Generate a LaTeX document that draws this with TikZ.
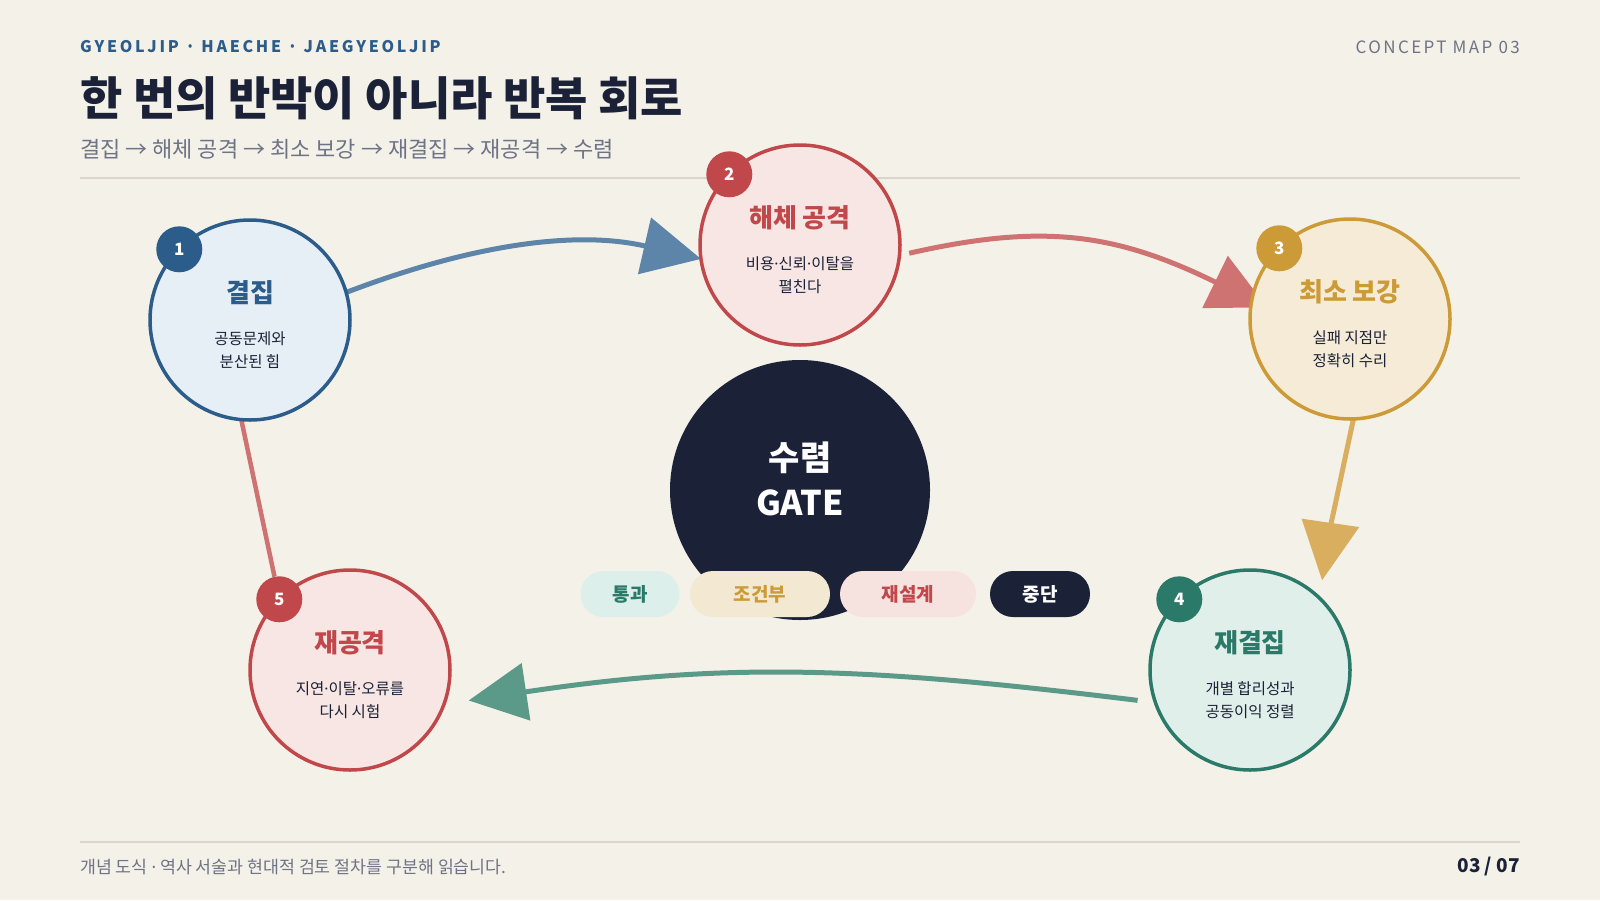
\documentclass[tikz,border=0pt]{standalone}
\usepackage{fontspec}
\setmainfont{Noto Sans CJK KR}
\newfontfamily\dotfont{Noto Sans}
\newcommand\mdot{{\dotfont ·}}
\usetikzlibrary{arrows.meta}
\definecolor{paper}{HTML}{F4F1E8}
\definecolor{ink}{HTML}{1B2238}
\definecolor{mute}{HTML}{6E7385}
\definecolor{rulec}{HTML}{D9D5C9}
\definecolor{blu}{HTML}{2B5C8A}
\definecolor{bluf}{HTML}{E6EEF6}
\definecolor{blua}{HTML}{5D85A9}
\definecolor{rd}{HTML}{C0484B}
\definecolor{rdf}{HTML}{F7E6E3}
\definecolor{rda}{HTML}{CF7272}
\definecolor{gd}{HTML}{CC9A36}
\definecolor{gdf}{HTML}{F5EBD6}
\definecolor{gda}{HTML}{D9AE5F}
\definecolor{tl}{HTML}{2B7A69}
\definecolor{tlf}{HTML}{E1EFEA}
\definecolor{tla}{HTML}{5B9A89}
\definecolor{tlp}{HTML}{DDEFEA}
\definecolor{gdp}{HTML}{F3E9D2}
\definecolor{rdp}{HTML}{F6E2DF}
\pgfdeclarelayer{bg}
\pgfdeclarelayer{links}
\pgfsetlayers{bg,links,main}
\tikzset{
  stage/.style={circle,minimum size=200pt,inner sep=0pt,outer sep=0pt,line width=3.5pt},
  badge/.style={circle,minimum size=46pt,inner sep=0pt,text=white,font=\bfseries\fontsize{17}{17}\selectfont},
  stagetitle/.style={font=\bfseries\fontsize{26}{26}\selectfont},
  stagenote/.style={align=center,text=ink,font=\fontsize{15.5}{23.5}\selectfont},
  pill/.style={rounded corners=23pt,minimum height=46pt,inner sep=0pt,font=\bfseries\fontsize{19}{19}\selectfont},
  flow/.style={line width=5pt,-{Triangle[length=58pt,width=57pt]}},
  rulel/.style={rulec,line width=2pt}
}
\begin{document}
\begin{tikzpicture}[x=1pt,y=-1pt]
\useasboundingbox (0,0) rectangle (1600,900);
\begin{pgfonlayer}{bg}
\fill[paper] (0,0) rectangle (1600,900);
\end{pgfonlayer}
\node[anchor=west,inner sep=0pt,text=blu,font=\bfseries\fontsize{16}{16}\selectfont\addfontfeature{LetterSpace=17}] (kicker) at (80,47) {GYEOLJIP · HAECHE · JAEGYEOLJIP};
\node[anchor=east,inner sep=0pt,text=mute,font=\fontsize{17}{17}\selectfont\addfontfeature{LetterSpace=14}] (mapno) at (1520,47) {CONCEPT MAP 03};
\node[anchor=west,inner sep=0pt,text=ink,font=\bfseries\fontsize{46}{46}\selectfont] (title) at (80,98) {한 번의 반박이 아니라 반복 회로};
\node[anchor=west,inner sep=0pt,text=mute,font=\fontsize{22}{22}\selectfont] (subtitle) at (80,149) {결집 → 해체 공격 → 최소 보강 → 재결집 → 재공격 → 수렴};
\draw[rulel] (80,178) -- (1520,178);
\draw[rulel] (80,842) -- (1520,842);
\node[anchor=west,inner sep=0pt,text=mute,font=\fontsize{17.3}{17}\selectfont] (foot) at (80,867) {개념 도식 \mdot{} 역사 서술과 현대적 검토 절차를 구분해 읽습니다.};
\node[anchor=east,inner sep=0pt,text=ink,font=\bfseries\fontsize{19}{19}\selectfont] (page) at (1520,867) {03 / 07};
\node[stage,draw=blu,fill=bluf] (c1) at (250,320) {};
\node[stage,draw=rd,fill=rdf] (c2) at (800,245) {};
\node[stage,draw=gd,fill=gdf] (c3) at (1350,319) {};
\node[stage,draw=tl,fill=tlf] (c4) at (1250,670) {};
\node[stage,draw=rd,fill=rdf] (c5) at (350,670) {};
\node[badge,fill=blu] (b1) at (c1.135) {1};
\node[badge,fill=rd] (b2) at (c2.135) {2};
\node[badge,fill=gd] (b3) at (c3.135) {3};
\node[badge,fill=tl] (b4) at (c4.135) {4};
\node[badge,fill=rd] (b5) at (c5.135) {5};
\node[stagetitle,text=blu] (t1) at (250,293) {결집};
\node[stagenote] (n1) at (250,350) {공동문제와\\분산된 힘};
\node[stagetitle,text=rd] (t2) at (800,218) {해체 공격};
\node[stagenote] (n2) at (800,275) {비용\mdot 신뢰\mdot 이탈을\\펼친다};
\node[stagetitle,text=gd] (t3) at (1350,292) {최소 보강};
\node[stagenote] (n3) at (1350,349) {실패 지점만\\정확히 수리};
\node[stagetitle,text=tl] (t4) at (1250,643) {재결집};
\node[stagenote] (n4) at (1250,700) {개별 합리성과\\공동이익 정렬};
\node[stagetitle,text=rd] (t5) at (350,643) {재공격};
\node[stagenote] (n5) at (350,700) {지연\mdot 이탈\mdot 오류를\\다시 시험};
\node[circle,fill=ink,minimum size=260pt,inner sep=0pt] (gate) at (800,490) {};
\node[align=center,text=white,font=\bfseries\fontsize{34}{45}\selectfont] (gatetext) at (800,479) {수렴\\GATE};
\node[pill,fill=tlp,text=tl,minimum width=99pt] (p1) at (630,594) {통과};
\node[pill,fill=gdp,text=gd,minimum width=140pt] (p2) at (760,594) {조건부};
\node[pill,fill=rdp,text=rd,minimum width=136pt] (p3) at (908,594) {재설계};
\node[pill,fill=ink,text=white,minimum width=100pt] (p4) at (1040,594) {중단};
\begin{pgfonlayer}{links}
\draw[flow,blua] (c1.16) .. controls +(118,-45) and +(-130,-30) .. (c2.188);
\draw[flow,rda,shorten <=10pt,shorten >=-17pt] (c2.-6) .. controls +(145,-33) and +(-135,-66) .. (c3.169);
\draw[flow,gda,shorten >=18pt] (c3.-88) .. controls +(-12,55) and +(8,-55) .. (c4.46);
\draw[flow,tla,shorten <=18pt,shorten >=25pt] (c4.199) .. controls +(-285,-35) and +(285,-43) .. (c5.-20);
\draw[rda,line width=4.5pt] (c1.265) -- (b5);
\end{pgfonlayer}
\end{tikzpicture}
\end{document}
